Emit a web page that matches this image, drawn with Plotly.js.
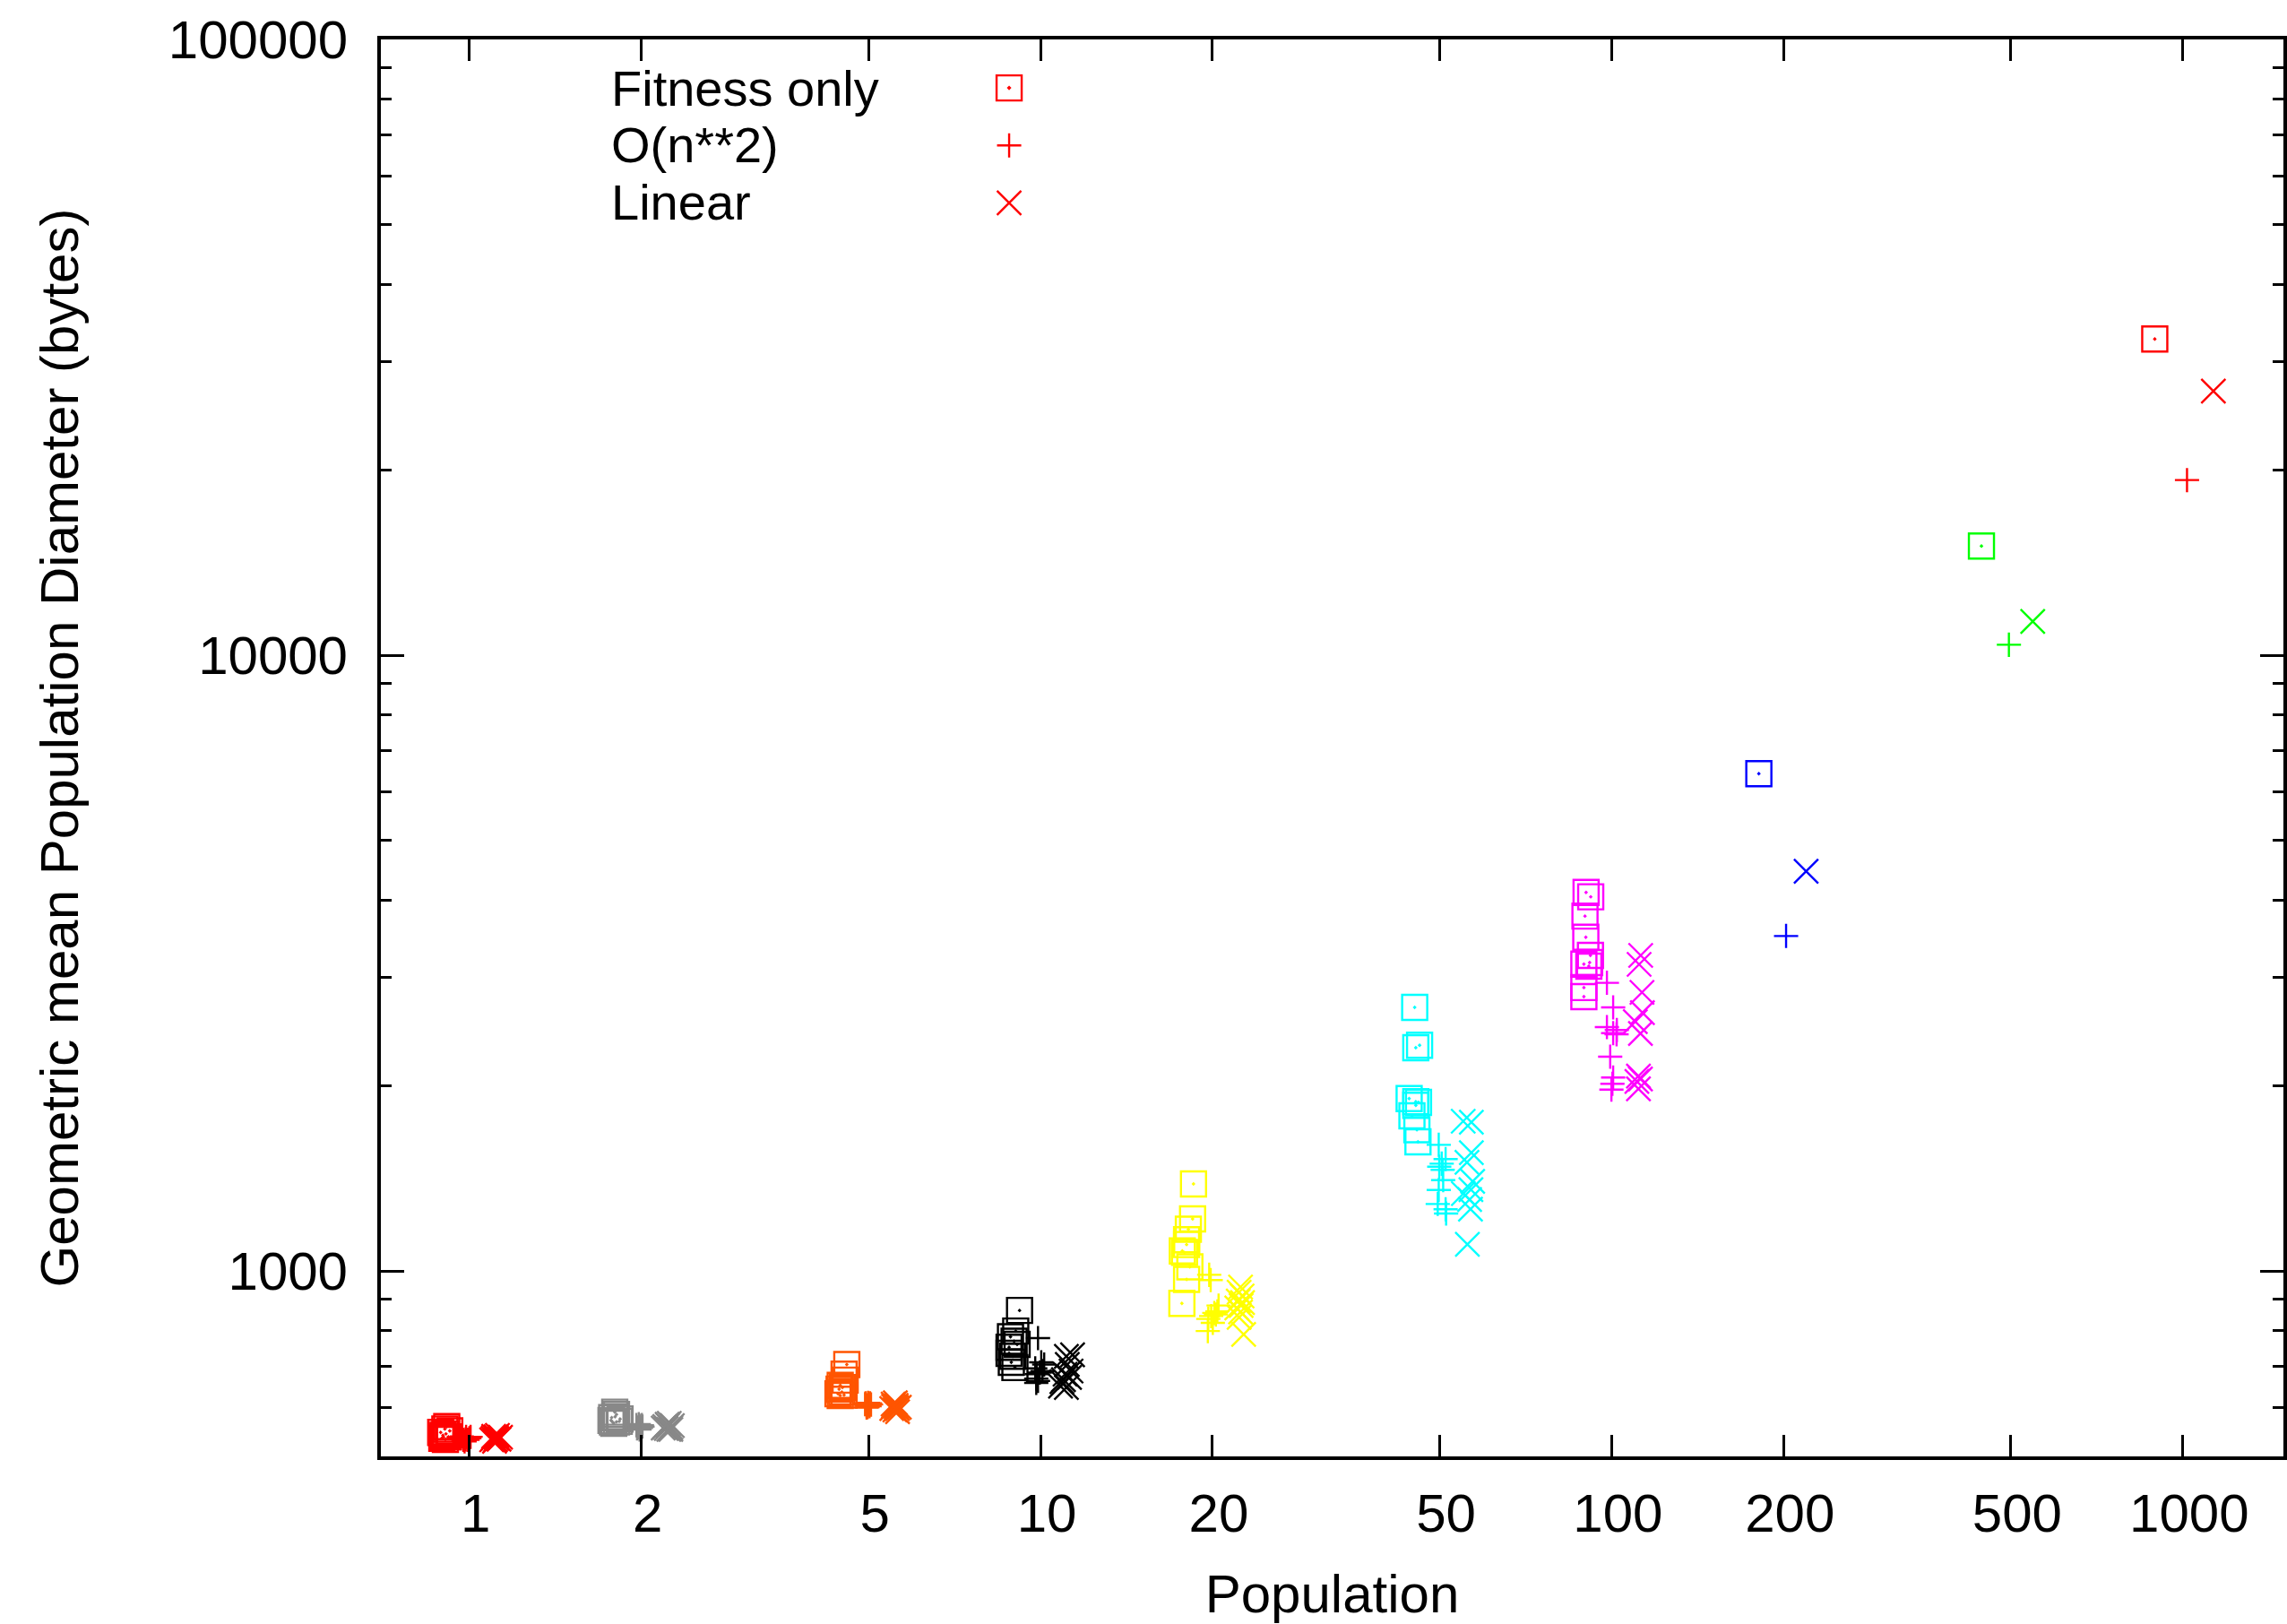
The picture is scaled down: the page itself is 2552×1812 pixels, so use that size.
<!DOCTYPE html>
<html><head><meta charset="utf-8">
<script src="https://cdn.plot.ly/plotly-3.0.1.min.js"></script>
<style>html,body{margin:0;padding:0;background:#fff;} #chart{width:2552px;height:1812px;}</style>
</head><body><div id="chart"></div>
<script>
// ---- data ----
const populations = [1, 2, 5, 10, 20, 50, 100, 200, 500, 1000];
const methodNames = ['Fitness only', 'O(n**2)', 'Linear'];

const fitnessX = [
  [0.913,0.906,0.891,0.899,0.910,0.919,0.895,0.908,0.924,0.901],
  [1.797,1.81,1.775,1.80,1.836,1.78,1.79,1.81,1.77,1.83],
  [4.58,4.53,4.55,4.46,4.50,4.44,4.49,4.42,4.53,4.46],
  [9.19,9.05,8.86,8.99,8.81,8.81,8.94,8.89,9.02,9.10],
  [18.53,18.46,18.15,18.02,18.02,17.71,17.87,18.26,18.02,17.68],
  [45.2,45.4,46.1,44.2,45.4,45.9,45.4,44.7,45.6,45.8],
  [90.2,91.9,89.8,90.1,91.8,89.4,91.5,91.2,89.4,89.4],
  [181],
  [444],
  [893]
];
const fitnessY = [
  [559,554,547,541,544,538,535,533,550,538],
  [590,585,578,580,575,569,566,569,572,570],
  [705,680,665,652,647,643,636,632,629,628],
  [863,799,782,769,752,735,727,711,697,760],
  [1385,1215,1169,1124,1104,1078,1072,1016,969,886],
  [2680,2305,2326,1906,1883,1879,1858,1787,1696,1621],
  [4120,4052,3770,3484,3255,3151,3169,3127,2886,2790],
  [6422],
  [15040],
  [32620]
];
const quadX = [
  [0.964,0.976,0.987,1.0,0.97,0.981,0.993,0.958,1.005,0.985],
  [1.961,1.974,1.986,1.998,2.01,1.98,1.966,1.99,2.005,1.986],
  [4.93,4.96,4.99,5.02,5.05,4.98,4.94,5.0,5.03,4.96],
  [9.90,10.03,10.15,9.79,9.85,9.97,9.83,9.90,9.83,10.08],
  [19.74,19.86,20.5,20.15,19.9,20.28,19.67,20.03,19.63,20.4],
  [49.8,51.2,49.9,50.6,50.7,49.8,49.6,51.2,51.3,50.4],
  [98.1,100.6,98.1,102.1,102.0,100.6,99.4,100.6,100.3,99.9],
  [202],
  [496],
  [1017]
];
const quadY = [
  [535,532,538,535,539,529,532,537,538,533],
  [562,557,561,556,559,564,555,558,562,553],
  [608,605,611,603,607,601,610,607,610,600],
  [778,711,705,695,680,684,669,663,658,688],
  [986,967,879,855,845,850,836,824,799,860],
  [1603,1520,1477,1460,1405,1354,1285,1260,1240,1494],
  [2938,2680,2489,2462,2424,2434,2229,2062,2014,1971],
  [3500],
  [10400],
  [19250]
];
const linearX = [
  [1.10,1.113,1.127,1.107,1.12,1.094,1.134,1.111,1.117,1.103],
  [2.199,2.226,2.253,2.212,2.239,2.267,2.185,2.235,2.22,2.253],
  [5.52,5.59,5.62,5.56,5.66,5.57,5.49,5.62,5.59,5.53],
  [11.1,11.38,11.14,11.31,11.04,10.97,10.84,11.1,11.24,10.9],
  [22.4,22.27,22.54,22.19,22.58,22.06,22.4,22.27,22.68,22.45],
  [54.96,56.8,56.8,55.8,57.1,55.0,56.7,56.4,56.6,55.9],
  [112.4,111.7,113.0,113.2,110.0,112.3,111.4,112.3,110.7,111.4],
  [219],
  [546],
  [1131]
];
const linearY = [
  [535,538,533,529,541,532,537,532,535,539],
  [559,562,557,555,566,561,556,553,564,553],
  [608,605,598,595,601,611,598,591,601,603],
  [727,731,705,688,680,666,650,647,672,661],
  [942,924,911,894,889,871,858,841,789,879],
  [1751,1745,1557,1502,1398,1336,1356,1307,1260,1105],
  [3255,3148,2835,2627,2541,2430,2073,2050,2032,1976],
  [4457],
  [11350],
  [26850]
];

const xTickVals = [1, 2, 5, 10, 20, 50, 100, 200, 500, 1000];
const xTickText = ['1', '2', '5', '10', '20', '50', '100', '200', '500', '1000'];
const yTickVals = [1000, 10000, 100000];
const yTickText = ['1000', '10000', '100000'];
const yMinorVals = [600, 700, 800, 900, 2000, 3000, 4000, 5000, 6000, 7000, 8000, 9000,
                    20000, 30000, 40000, 50000, 60000, 70000, 80000, 90000];

// ---- styles ----
const groupColors = ['#ff0000', '#888888', '#ff5500', '#000000', '#ffff00',
                     '#00ffff', '#ff00ff', '#0000ff', '#00ff00', '#ff0000'];
const symbols = ['square-open-dot', 'cross-thin-open', 'x-thin-open'];
const sizes = [28, 19.3, 27];
const LW = 2.4;

function colorsFor(groups) {
  const c = [];
  groups.forEach((g, i) => g.forEach(() => c.push(groupColors[i])));
  return c;
}

const seriesX = [fitnessX, quadX, linearX];
const seriesY = [fitnessY, quadY, linearY];

const traces = methodNames.map((name, k) => ({
  type: 'scatter',
  mode: 'markers',
  name: '',
  x: seriesX[k].flat(),
  y: seriesY[k].flat(),
  marker: {
    symbol: symbols[k],
    size: sizes[k],
    color: colorsFor(seriesX[k]),
    line: { width: LW }
  },
  hoverinfo: 'x+y'
}));

const FONT = 'Liberation Sans, Arial, Helvetica, sans-serif';
const FS = 60;
const KEY_FS = 56;
const legendRowsY = [0.9658, 0.9254, 0.8849];

const layout = {
  width: 2552, height: 1812,
  margin: { l: 425, r: 4, t: 44, b: 187, pad: 0 },
  paper_bgcolor: '#ffffff', plot_bgcolor: '#ffffff',
  font: { family: FONT, size: FS, color: '#000000' },
  showlegend: true,
  legend: {
    x: 0.3208, y: 0.9892, xanchor: 'left', yanchor: 'top',
    font: { size: 47, family: FONT },
    bgcolor: 'rgba(0,0,0,0)', borderwidth: 0, itemwidth: 30
  },
  xaxis: {
    type: 'log', range: [Math.log10(0.7), Math.log10(1500)],
    tickmode: 'array', tickvals: xTickVals, ticktext: xTickText,
    ticks: 'inside', ticklen: 24, tickwidth: 3, tickcolor: '#000',
    showline: true, linewidth: 4, linecolor: '#000', mirror: 'ticks',
    showgrid: false, zeroline: false,
    tickfont: { size: FS, family: FONT },
    ticklabelstandoff: 8, ticklabelshift: 7,
    title: { text: 'Population', font: { size: FS, family: FONT }, standoff: 44 }
  },
  yaxis: {
    type: 'log', range: [Math.log10(500), 5],
    tickmode: 'array', tickvals: yTickVals, ticktext: yTickText,
    ticks: 'inside', ticklen: 26, tickwidth: 3, tickcolor: '#000',
    minor: { tickmode: 'array', tickvals: yMinorVals, ticks: 'inside', ticklen: 12, tickwidth: 3, tickcolor: '#000', showgrid: false },
    showline: true, linewidth: 4, linecolor: '#000', mirror: 'ticks',
    showgrid: false, zeroline: false,
    tickfont: { size: FS, family: FONT },
    ticklabelstandoff: 21,
    title: { text: 'Geometric mean Population Diameter (bytes)', font: { size: FS, family: FONT }, standoff: 82 }
  },
  annotations: methodNames.map((n, i) => ({
    text: n, xref: 'paper', yref: 'paper', x: 0.1205, y: legendRowsY[i],
    xanchor: 'left', yanchor: 'middle', showarrow: false, borderpad: 0,
    font: { size: KEY_FS, family: FONT, color: '#000' }
  }))
};

Plotly.newPlot('chart', traces, layout, { displayModeBar: false, staticPlot: true }).then(gd => {
  // enlarge legend keys to the marker size used in the plot (legend caps marker size at 16)
  gd.querySelectorAll('.legend .traces').forEach((g, i) => {
    const p = g.querySelector('.legendpoints path.scatterpts');
    if (!p) return;
    const s = sizes[i] / Math.min(16, sizes[i]);
    const t = p.getAttribute('transform') || '';
    p.setAttribute('transform', t + ' scale(' + s + ')');
    p.style.strokeWidth = (LW / s) + 'px';
  });
});
</script>
</body></html>
